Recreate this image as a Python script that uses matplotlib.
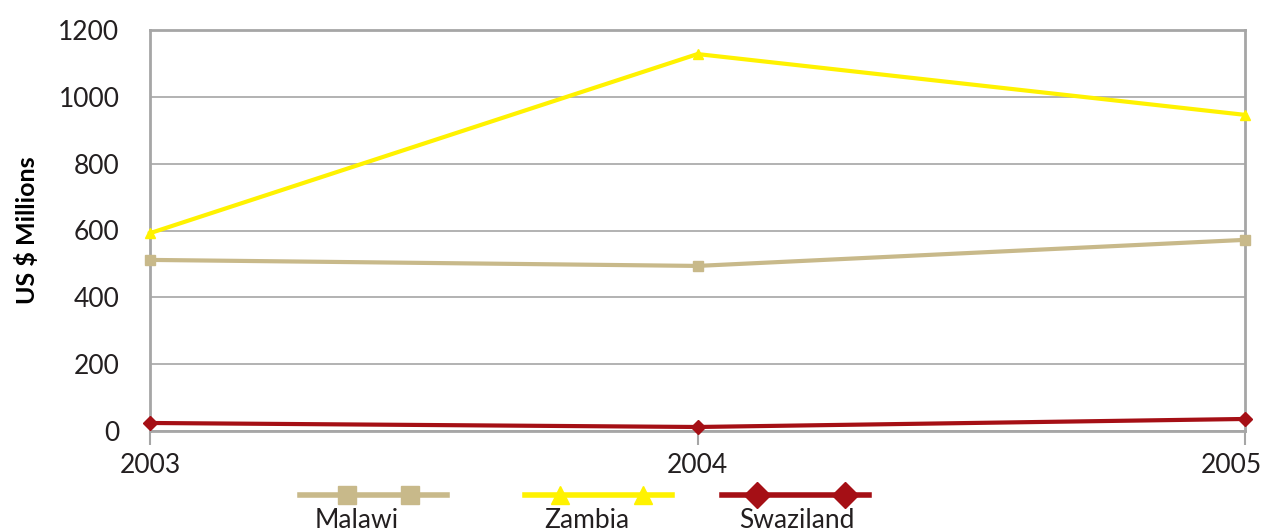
import matplotlib
matplotlib.use("Agg")
import matplotlib.pyplot as plt
import matplotlib.transforms as mtransforms
from matplotlib.lines import Line2D

# valores
anos = [2003, 2004, 2005]
malawi = [512, 494, 572]
zambia = [592, 1128, 946]
swaziland = [24, 12, 36]

series = [
    ("Malawi", malawi, "#c8b98a", "s"),
    ("Zambia", zambia, "#fff200", "^"),
    ("Swaziland", swaziland, "#a50f15", "D"),
]

plt.rcParams['font.family'] = ['Lato', 'DejaVu Sans']
grid_cor = "#a6a6a6"

fig = plt.figure(figsize=(12.66, 5.32), dpi=100)
ax = fig.add_axes([150/1266, 1-431/532, (1245-150)/1266, (431-30)/532])

for nome, vals, cor, mk in series:
    ax.plot(anos, vals, color=cor, lw=3, marker=mk, ms=7, label=nome, zorder=3, clip_on=False)

ax.set_xlim(2003, 2005)
ax.set_ylim(0, 1200)
ax.set_yticks(range(0, 1201, 200))
ax.set_xticks(anos)
ax.grid(axis='y', color=grid_cor, lw=1.2)
for s in ax.spines.values():
    s.set_color(grid_cor)
    s.set_linewidth(2)
ax.tick_params(axis='y', length=0, pad=22, labelsize=19, labelcolor='#231f20')
ax.tick_params(axis='x', length=10, width=1.5, color=grid_cor, direction='out', pad=6,
               labelsize=19, labelcolor='#231f20')
ax.set_ylabel('US $ Millions', fontsize=18, fontweight='bold', labelpad=14)

# último rótulo do eixo x puxado para dentro da figura
ult = ax.get_xticklabels()[-1]
ult.set_transform(ult.get_transform() + mtransforms.ScaledTranslation(-14/100, 0, fig.dpi_scale_trans))

# legenda personalizada: linha com dois marcadores e rótulo abaixo
leg_x = [(300, 447, 347, 410, 357), (525, 672, 560, 643, 587), (722, 869, 757, 845, 797)]
for (nome, vals, cor, mk), (x0, x1, m0, m1, tx) in zip(series, leg_x):
    fig.add_artist(Line2D([x0/1266, x1/1266], [1-495/532]*2, color=cor, lw=4,
                          transform=fig.transFigure))
    fig.add_artist(Line2D([m0/1266, m1/1266], [1-495/532]*2, color=cor, lw=0,
                          marker=mk, ms=13, transform=fig.transFigure))
    fig.text(tx/1266, 1-521/532, nome, ha='center', va='center', fontsize=19, color='#231f20')

fig.savefig('out.png', dpi=100)
